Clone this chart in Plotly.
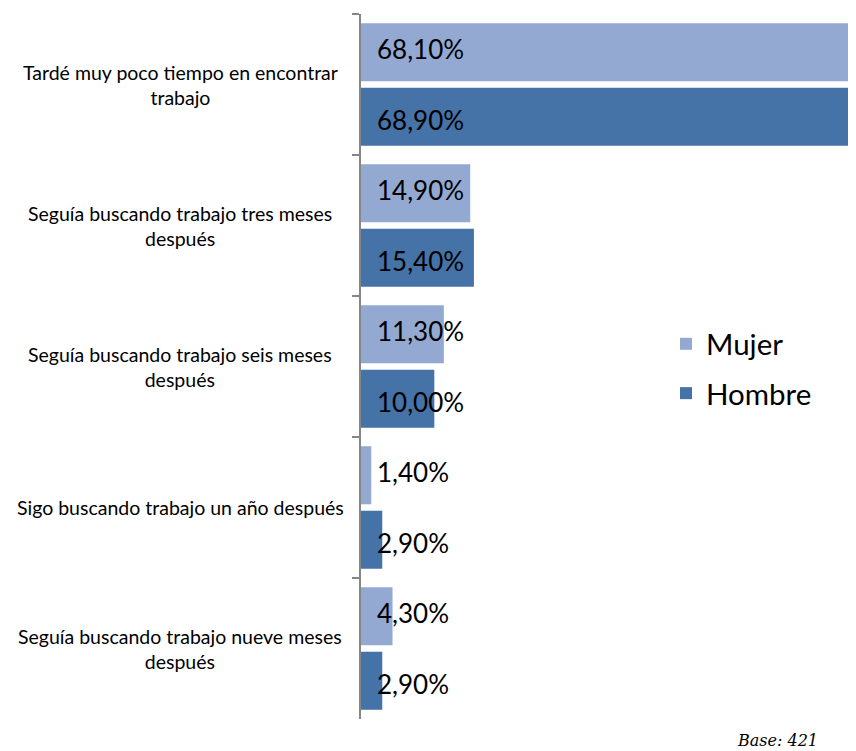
import plotly.graph_objects as go

# --- DATA ---
categorias = [
    "Tardé muy poco tiempo en encontrar<br>trabajo",
    "Seguía buscando trabajo tres meses<br>después",
    "Seguía buscando trabajo seis meses<br>después",
    "Sigo buscando trabajo un año después",
    "Seguía buscando trabajo nueve meses<br>después",
]
mujer = [68.1, 14.9, 11.3, 1.4, 4.3]
hombre = [68.9, 15.4, 10.0, 2.9, 2.9]
etiquetas_mujer = ["68,10%", "14,90%", "11,30%", "1,40%", "4,30%"]
etiquetas_hombre = ["68,90%", "15,40%", "10,00%", "2,90%", "2,90%"]

# --- THEME ---
COLOR_MUJER = "#94A9D2"
COLOR_HOMBRE = "#4572A7"
AXIS_COLOR = "#868686"
FONT = "Lato, Noto Sans, sans-serif"

cat_ids = [f"c{i}" for i in range(len(categorias))]

fig = go.Figure()
fig.add_trace(go.Bar(y=cat_ids, x=mujer, name="Mujer", orientation="h",
                     legendgroup="m",
                     marker=dict(color=COLOR_MUJER, line=dict(width=0)),
                     hoverinfo="skip"))
fig.add_trace(go.Bar(y=cat_ids, x=hombre, name="Hombre", orientation="h",
                     legendgroup="h",
                     marker=dict(color=COLOR_HOMBRE, line=dict(width=0)),
                     hoverinfo="skip"))

# plot area: 503 px de ancho, el eje va de 0 a 68.6
PW = 503.0

annotations = []
# etiquetas de valor (pegadas a la base)
for cid, lm, lh in zip(cat_ids, etiquetas_mujer, etiquetas_hombre):
    annotations.append(dict(x=0, y=cid, xref="x", yref="y", text=lm, showarrow=False,
                            xanchor="left", xshift=14, yshift=36,
                            font=dict(size=26, color="#000000", family=FONT)))
    annotations.append(dict(x=0, y=cid, xref="x", yref="y", text=lh, showarrow=False,
                            xanchor="left", xshift=14, yshift=-35,
                            font=dict(size=26, color="#000000", family=FONT)))
# etiquetas de categoría centradas
for cid, cat in zip(cat_ids, categorias):
    annotations.append(dict(x=-181 / PW, y=cid, xref="paper", yref="y", text=cat,
                            showarrow=False, xanchor="center", align="center",
                            font=dict(size=19.5, color="#000000", family=FONT)))
annotations.append(dict(x=459 / PW, y=-0.030, xref="paper", yref="paper", text="<i>Base: 421</i>",
                        showarrow=False, xanchor="right", yanchor="middle",
                        font=dict(size=16, color="#000000", family="DejaVu Serif, serif")))

# la página deja 8 px de margen (body), se compensa aquí
fig.update_layout(
    width=856, height=743,
    margin=dict(l=353, r=0, t=6, b=32),
    paper_bgcolor="white", plot_bgcolor="white",
    barmode="group", bargap=0.085, bargroupgap=0.1,
    font=dict(family=FONT, color="#000000"),
    xaxis=dict(range=[0, 68.6], visible=False, fixedrange=True),
    yaxis=dict(type="category", autorange="reversed", showticklabels=False,
               tickson="boundaries", ticks="outside", ticklen=7, tickcolor=AXIS_COLOR,
               tickwidth=1.5, showline=True, linecolor=AXIS_COLOR, linewidth=1.5,
               showgrid=False, zeroline=False),
    legend=dict(x=305 / PW, y=0.497, xanchor="left", yanchor="middle",
                font=dict(size=29.5, family=FONT, color="#000000"),
                bgcolor="rgba(0,0,0,0)", tracegroupgap=8, itemwidth=30),
    annotations=annotations,
    showlegend=True,
)

fig.write_html("out.html")
